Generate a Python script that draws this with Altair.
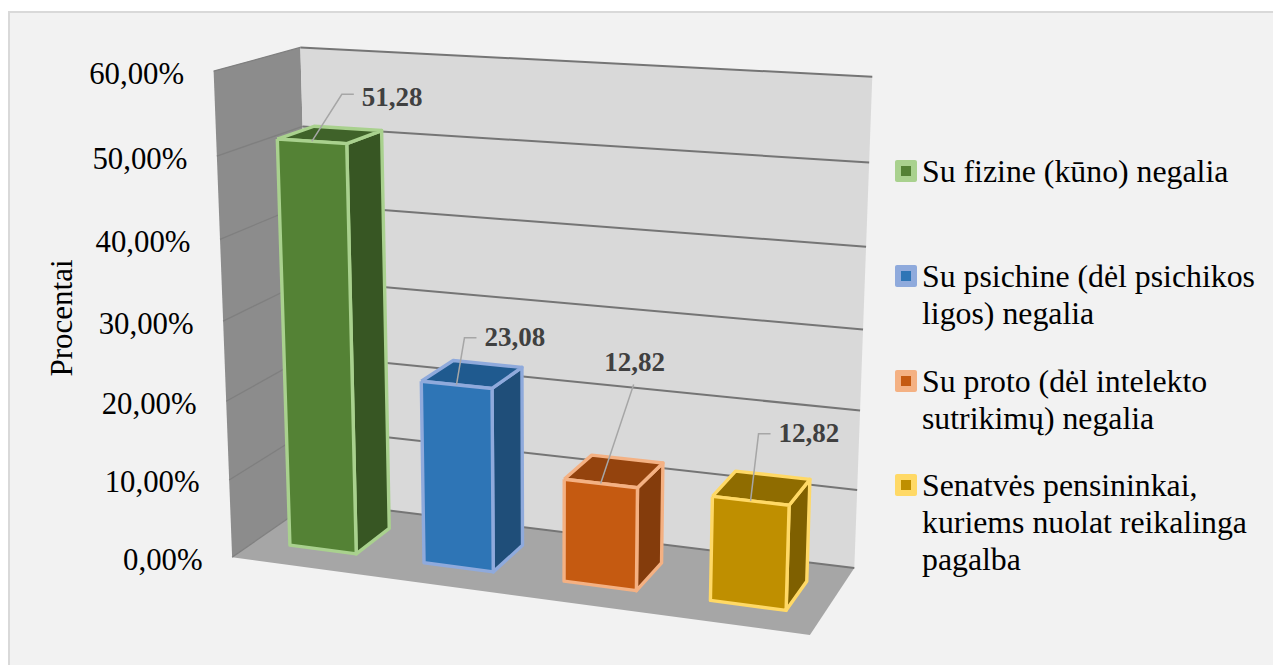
import altair as alt
import numpy as np
import pandas as pd

# ---- chart values ----
categories = ["Su fizine (kūno) negalia", "Su psichine (dėl psichikos ligos) negalia",
              "Su proto (dėl intelekto sutrikimų) negalia",
              "Senatvės pensininkai, kuriems nuolat reikalinga pagalba"]
values = [51.28, 23.08, 12.82, 12.82]
value_labels = ["51,28", "23,08", "12,82", "12,82"]
ticks = [0, 10, 20, 30, 40, 50, 60]
tick_labels = ["0,00%", "10,00%", "20,00%", "30,00%", "40,00%", "50,00%", "60,00%"]
legend_lines = [["Su fizine (kūno) negalia"],
                ["Su psichine (dėl psichikos", "ligos) negalia"],
                ["Su proto (dėl intelekto", "sutrikimų) negalia"],
                ["Senatvės pensininkai,", "kuriems nuolat reikalinga", "pagalba"]]
axis_title = "Procentai"

# ---- styles ----
front = ["#548235", "#2e75b6", "#c55a11", "#bf8f00"]
side = ["#375623", "#1f4e79", "#843c0c", "#7f6000"]
top = ["#3f6229", "#1f5a8f", "#94430d", "#8f6c00"]
edge = ["#a9d18e", "#8faadc", "#f4b183", "#ffd966"]
SERIF = "Liberation Serif"

# ---- 3D view: camera fitted to the box corners (category, value, depth) -> page px ----
cal = []
lf_x = [232, 229, 226, 223, 220, 217, 214]
lf_y = [558, 481, 400, 320, 238, 157, 72]
br_x = [854, 857, 860, 863, 866, 869, 873]
br_y = [568, 490, 411, 329, 247, 162, 77]
for t, a, b, c, d in zip(ticks, lf_x, lf_y, br_x, br_y):
    cal.append((0, t, 0, a, b))
    cal.append((4, t, 1, c, d))
cal += [(0, 60, 1, 300, 47), (0, 50, 1, 302, 127), (0, 0, 1, 314, 501), (4, 0, 0, 810, 635)]
A = []
for X, Y, Z, u, v in cal:
    p = [X, Y / 60, Z, 1]
    u, v = u / 1000, v / 1000
    A.append(p + [0, 0, 0, 0] + [-u * q for q in p])
    A.append([0, 0, 0, 0] + p + [-v * q for q in p])
P = np.linalg.svd(np.array(A, float))[2][-1].reshape(3, 4)


def proj(X, Y, Z):
    h = P @ np.array([X, Y / 60, Z, 1.0])
    return 1000 * h[0] / h[2], 1000 * h[1] / h[2]


layers = []
W, H = 1265, 657
xs = alt.Scale(domain=[8, 8 + W], nice=False, zero=False)
ys = alt.Scale(domain=[8, 8 + H], reverse=True, nice=False, zero=False)
X_ = alt.X("x:Q", scale=xs, axis=None)
Y_ = alt.Y("y:Q", scale=ys, axis=None)


def poly(pts, fill, stroke=None, sw=0):
    d = pd.DataFrame({"x": [p[0] for p in pts] + [pts[0][0]],
                      "y": [p[1] for p in pts] + [pts[0][1]],
                      "o": range(len(pts) + 1)})
    kw = dict(fill=fill, strokeJoin="round", clip=False)
    kw.update(stroke=stroke if stroke else fill, strokeWidth=sw if stroke else 0)
    layers.append(alt.Chart(d).mark_line(**kw).encode(x=X_, y=Y_, order="o:Q"))


def seg(pts, color, sw):
    d = pd.DataFrame({"x": [p[0] for p in pts], "y": [p[1] for p in pts], "o": range(len(pts))})
    layers.append(alt.Chart(d).mark_line(stroke=color, strokeWidth=sw).encode(x=X_, y=Y_, order="o:Q"))


# background with a top and left hairline only
layers.append(alt.Chart(pd.DataFrame({"x": [8], "x2": [8 + W], "y": [12], "y2": [8 + H]}))
              .mark_rect(fill="#f2f2f2")
              .encode(x=X_, x2="x2:Q", y=Y_, y2="y2:Q"))
seg([(9, 8 + H), (9, 12), (8 + W, 12)], "#d9d9d9", 2)

# walls and floor
poly([proj(0, 60, 0), proj(0, 60, 1), proj(0, 0, 1), proj(0, 0, 0)], "#8c8c8c")
poly([proj(0, 60, 1), proj(4, 60, 1), proj(4, 0, 1), proj(0, 0, 1)], "#d9d9d9")
poly([proj(0, 0, 0), proj(0, 0, 1), proj(4, 0, 1), proj(4, 0, 0)], "#a6a6a6")
for t in ticks:
    seg([proj(0, t, 0), proj(0, t, 1)], "#7f7f7f", 1.3)
    seg([proj(0, t, 1), proj(4, t, 1)], "#757575", 2)

# bars
HALF = 0.25
SHIFT = 0.01
Z0, Z1 = 0.28, 0.72
for i, v in enumerate(values):
    a, b = i + 0.5 + SHIFT - HALF, i + 0.5 + SHIFT + HALF
    poly([proj(b, v, Z0), proj(b, v, Z1), proj(b, 0, Z1), proj(b, 0, Z0)], side[i], edge[i], 3.4)
    poly([proj(a, v, Z0), proj(a, v, Z1), proj(b, v, Z1), proj(b, v, Z0)], top[i], edge[i], 3.4)
    poly([proj(a, v, Z0), proj(b, v, Z0), proj(b, 0, Z0), proj(a, 0, Z0)], front[i], edge[i], 3.4)

# leader lines and value labels, offset from the middle of each bar's top front edge
elbow = [(30, -47), (8, -47), (33, -99), (8, -67)]
tail = [(42, -47), (20, -47), (33, -99), (20, -67)]
text_at = [(50, -43), (28, -47), (34, -120), (28, -67)]
text_align = ["left", "left", "center", "left"]
for i, v in enumerate(values):
    a, b = i + 0.5 + SHIFT - HALF, i + 0.5 + SHIFT + HALF
    s = proj((a + b) / 2, v, Z0)
    seg([s, (s[0] + elbow[i][0], s[1] + elbow[i][1]), (s[0] + tail[i][0], s[1] + tail[i][1])], "#a6a6a6", 1.5)
    d = pd.DataFrame({"x": [s[0] + text_at[i][0]], "y": [s[1] + text_at[i][1]], "t": [value_labels[i]]})
    layers.append(alt.Chart(d).mark_text(font=SERIF, fontSize=27, fontWeight="bold", color="#404040",
                                         align=text_align[i], baseline="middle").encode(x=X_, y=Y_, text="t:N"))

# axis tick labels
d = pd.DataFrame({"x": [proj(0, t, 0)[0] - 29.5 for t in ticks],
                  "y": [proj(0, t, 0)[1] + 3.5 for t in ticks], "t": tick_labels})
layers.append(alt.Chart(d).mark_text(font=SERIF, fontSize=30.8, color="#000000", align="right",
                                     baseline="middle").encode(x=X_, y=Y_, text="t:N"))
# axis title
d = pd.DataFrame({"x": [63], "y": [318], "t": [axis_title]})
layers.append(alt.Chart(d).mark_text(font=SERIF, fontSize=31, color="#000000", angle=270, align="center",
                                     baseline="middle").encode(x=X_, y=Y_, text="t:N"))

# legend
row_y = [171, 276, 381, 485]
LINE = 37
for i in range(4):
    y = row_y[i]
    layers.append(alt.Chart(pd.DataFrame({"x": [895], "x2": [917], "y": [y - 11], "y2": [y + 11]}))
                  .mark_rect(fill=edge[i], cornerRadius=2).encode(x=X_, x2="x2:Q", y=Y_, y2="y2:Q"))
    layers.append(alt.Chart(pd.DataFrame({"x": [901], "x2": [911], "y": [y - 5], "y2": [y + 5]}))
                  .mark_rect(fill=front[i]).encode(x=X_, x2="x2:Q", y=Y_, y2="y2:Q"))
    d = pd.DataFrame({"x": [922] * len(legend_lines[i]),
                      "y": [y + 1 + LINE * k for k in range(len(legend_lines[i]))],
                      "t": legend_lines[i]})
    layers.append(alt.Chart(d).mark_text(font=SERIF, fontSize=31.8, color="#000000", align="left",
                                         baseline="middle").encode(x=X_, y=Y_, text="t:N"))

chart = alt.layer(*layers).properties(
    width=W, height=H, padding=0, autosize=alt.AutoSizeParams(type="none"), background="#ffffff"
).configure_view(stroke=None)
chart.save("out.html", embed_options={"renderer": "svg", "actions": False})
